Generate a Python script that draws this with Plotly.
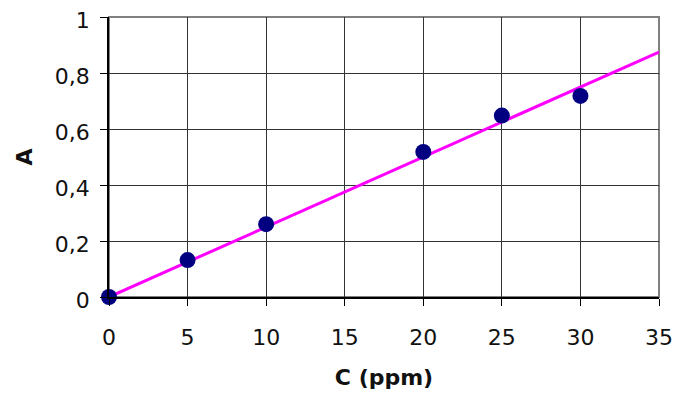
import plotly.graph_objects as go

conc = [0, 5, 10, 20, 25, 30]
absorb = [0.0, 0.132, 0.26, 0.518, 0.648, 0.718]
trend_x = [0, 35]
slope = 0.025
trend_y = [slope * v for v in trend_x]

fig = go.Figure()
fig.add_trace(go.Scatter(x=trend_x, y=trend_y, mode="lines",
                         line=dict(color="#FF00FF", width=3), showlegend=False, cliponaxis=False))
fig.add_trace(go.Scatter(x=conc, y=absorb, mode="markers",
                         marker=dict(color="#000080", size=16), showlegend=False, cliponaxis=False))

fig.update_layout(
    width=677, height=394,
    margin=dict(l=109, r=18, t=17, b=97),
    plot_bgcolor="white", paper_bgcolor="white",
    separators=", ",
    font=dict(family="DejaVu Sans, Verdana", size=22, color="#111111"),
    shapes=[dict(type="rect", xref="paper", yref="paper", x0=0, x1=1, y0=0, y1=1,
                 line=dict(color="#808080", width=2), layer="below")],
)
fig.update_xaxes(range=[0, 35], tickvals=[0, 5, 10, 15, 20, 25, 30, 35],
                 showgrid=True, gridcolor="#333333", gridwidth=1,
                 showline=True, linecolor="black", linewidth=1.5,
                 ticks="outside", ticklen=7, tickcolor="black",
                 ticklabelstandoff=13, ticklabeloverflow="allow",
                 zeroline=False, automargin=False,
                 title=dict(text="<b>C (ppm)</b>", font=dict(size=22), standoff=20))
fig.update_yaxes(range=[0, 1], tickvals=[0, 0.2, 0.4, 0.6, 0.8, 1], tickformat=".1~f",
                 showgrid=True, gridcolor="#333333", gridwidth=1,
                 showline=True, linecolor="black", linewidth=1.5,
                 ticks="outside", ticklen=7, tickcolor="black",
                 ticklabelstandoff=6, ticklabelshift=3, ticklabeloverflow="allow",
                 zeroline=False, automargin=False,
                 title=dict(text="<b>A</b>", font=dict(size=22), standoff=16))
fig.write_html("out.html", config={"displayModeBar": False},
               post_script="document.body.style.margin='0';document.body.style.overflow='hidden';")
